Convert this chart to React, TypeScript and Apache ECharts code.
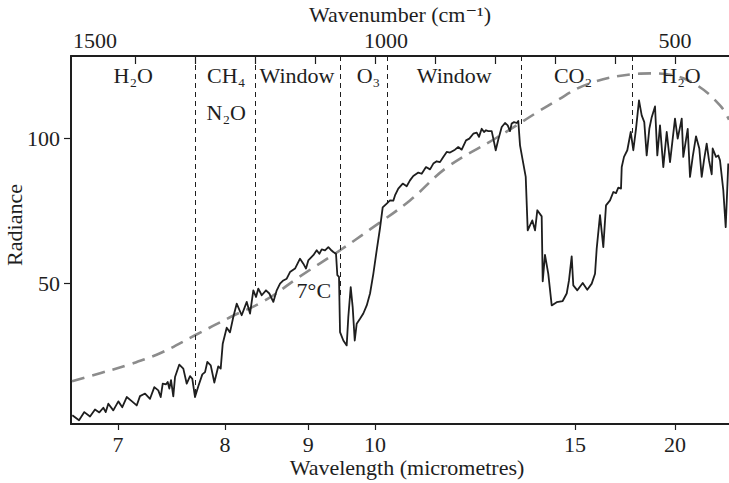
import { useEffect, useRef } from "react";
import * as echarts from "echarts";

// Measured outgoing spectrum: wavenumber (cm⁻¹) and radiance
const wavenumber = [
  1504.5, 1493.3, 1484.5, 1475, 1466.7, 1459.5, 1452.8, 1448.8, 1444.5, 1436.2,
  1427.8, 1421.2, 1413.8, 1405.5, 1397.2, 1391.7, 1383.3, 1375, 1367.8, 1361.2,
  1357.2, 1353.8, 1348.3, 1345.5, 1342.8, 1340, 1336.2, 1333.3, 1326.2, 1319.5,
  1313.8, 1308.3, 1304.5, 1300, 1294.5, 1287.8, 1283.3, 1279.5, 1273.8, 1267.8,
  1261.2, 1257.2, 1253.8, 1247.2, 1241.7, 1236.2, 1230.5, 1222.2, 1213.8, 1208.3,
  1202.8, 1198.3, 1194.5, 1188.8, 1181.7, 1176.2, 1169.5, 1163.8, 1158.3, 1152.8,
  1147.2, 1141.7, 1133.3, 1125, 1119.5, 1115, 1111.2, 1102.8, 1097.2, 1092.8,
  1088.8, 1083.3, 1077.8, 1073.8, 1069.5, 1065, 1062.8, 1060, 1058.3, 1052.8,
  1047.2, 1044.5, 1040.5, 1037.2, 1033.8, 1030.5, 1025, 1019.5, 1013.8, 1008.3,
  1002.8, 997.2, 991.7, 987.2, 980.5, 975, 969.5, 966.7, 961.2, 953.8,
  947.2, 941.7, 936.2, 927.8, 922.2, 915, 908.3, 902.8, 897.2, 891.7,
  886.2, 880.5, 875, 866.7, 861.2, 855.5, 848.3, 842.8, 836.2, 830.5,
  826.7, 822.2, 818.3, 815, 811.2, 805.5, 802.8, 798.8, 794.5, 788.8,
  783.3, 778.8, 775, 772.2, 768.3, 763.8, 761.2, 758.3, 753.8, 748.8,
  745.5, 741.7, 737.8, 733.3, 729.5, 722.2, 720.5, 716.7, 711.2, 705.5,
  697.2, 687.2, 680.5, 676.7, 672.2, 669.5, 662.8, 653.8, 646.2, 638.8,
  633.3, 630.5, 625, 619.5, 615, 608.3, 602.8, 598.3, 594.5, 590,
  588.8, 585, 579.5, 573.8, 569.5, 565, 560, 555.5, 551.2, 547.2,
  542.8, 538.8, 533.3, 529.5, 525, 519.5, 513.8, 508.3, 500, 495.5,
  488.8, 486.2, 478.8, 475, 470.5, 465, 459.5, 455.5, 451.7, 447.2,
  443.3, 438.8, 437.2, 431.7, 427.8, 425, 419.5, 415.5, 411.2,
];
const radiance = [
  4.6, 2.9, 5.7, 4.2, 6.6, 5.6, 7.2, 5.7, 8.6, 6.3,
  9.4, 7.4, 10.9, 9.5, 8.0, 11.2, 12.1, 10.3, 14.3, 13.2,
  10.9, 15.5, 15.3, 16.1, 13.8, 16.7, 11.1, 17.8, 22.1, 20.7,
  15.5, 18.1, 17.2, 10.9, 14.6, 18.7, 19.5, 23.0, 21.8, 15.9,
  21.5, 20.7, 29.3, 34.8, 33.2, 38.5, 43.1, 39.1, 43.7, 39.7,
  47.7, 45.4, 48.3, 46.0, 47.7, 46.6, 43.7, 47.7, 50.0, 51.1,
  51.7, 54.0, 55.2, 58.6, 56.9, 55.2, 58.0, 59.8, 61.5, 60.3,
  61.8, 61.5, 62.6, 61.7, 60.9, 60.3, 52.9, 52.3, 33.3, 30.4,
  28.7, 38.5, 48.8, 41.9, 30.4, 36.2, 37.9, 39.7, 42.5, 46.6,
  53.4, 61.5, 69.1, 76.3, 77.6, 78.7, 78.6, 80.4, 82.8, 84.5,
  83.6, 85.6, 87.1, 88.3, 87.9, 90.2, 89.4, 91.4, 92.2, 91.9,
  93.7, 95.4, 95.2, 96.2, 97.1, 96.2, 99.4, 100.0, 101.7, 102.1,
  100.6, 103.4, 102.3, 102.9, 102.6, 102.6, 100.0, 96.0, 99.7, 104.0,
  105.4, 104.6, 102.6, 105.2, 105.7, 105.4, 106.1, 97.7, 92.5, 86.8,
  68.4, 70.1, 71.8, 68.4, 75.3, 73.2, 50.8, 59.9, 53.4, 42.5,
  43.6, 44.0, 46.6, 51.1, 59.4, 49.4, 47.7, 50.2, 47.9, 50.0,
  53.4, 62.1, 73.6, 62.6, 77.0, 78.7, 81.6, 81.2, 83.1, 82.8,
  90.2, 93.7, 96.0, 102.3, 96.0, 103.4, 113.2, 108.0, 105.7, 94.2,
  103.4, 107.4, 111.1, 94.2, 104.6, 90.2, 102.3, 91.9, 106.9, 100.0,
  106.9, 93.7, 103.4, 86.8, 93.7, 100.8, 96.6, 86.8, 92.5, 98.3,
  92.5, 87.7, 96.6, 93.7, 94.2, 92.5, 82.2, 69.5, 91.4,
];

// Blackbody emission at 7°C
const planckWavenumber = [
  1505, 1458.3, 1408.3, 1358.3, 1300, 1241.7, 1183.3, 1125, 1058.3, 1008.3,
  941.7, 880, 796.7, 696.7, 641.7, 571.7, 541.7, 503.3, 463.3, 425, 410,
];
const planckRadiance = [
  16.3, 19.1, 22.2, 26.0, 32.2, 38.4, 44.2, 52.5, 61.5, 68.7,
  78.7, 90.1, 100.4, 113.2, 119.1, 122.2, 122.5, 121.8, 118.4, 111.5, 106.5,
];

// Axes
const wavenumberRange = [410, 1506.7];
const radianceRange = [1.6, 128.5];
const wavelengthTicks = [7, 8, 9, 10, 15, 20];
const wavenumberLabels = [1500, 1000, 500];
const wavenumberTicks = [1400, 1300, 1200, 1100, 1000, 900, 800, 700, 600, 500];
const radianceTicks = [50, 100];

// Absorption band boundaries and where each divider meets the spectrum
const bandEdges = [1300, 1200, 1058, 980, 757, 572];
const bandEdgeEnds = [12, 48, 45, 78, 105, 102];

// Band names, their centre wavenumbers and text row (0 = upper, 1 = lower)
const bandNames = ["H₂O", "CH₄", "N₂O", "Window", "O₃", "Window", "CO₂", "H₂O"];
const bandCentres = [1403, 1248, 1248, 1130, 1011, 868, 670, 490];
const bandRows = [0, 0, 1, 0, 0, 0, 0, 0];

const FONT = "'Liberation Serif', 'DejaVu Serif', serif";
const INK = "#1e1e1e";

export default function App() {
  const ref = useRef<HTMLDivElement>(null);

  useEffect(() => {
    if (!ref.current) return;
    const chart = echarts.init(ref.current, undefined, { renderer: "svg" });

    const spectrum = wavenumber.map((v, i) => [v, radiance[i]]);
    const planck = planckWavenumber.map((v, i) => [v, planckRadiance[i]]);
    const textStyle = { fontFamily: FONT, fontSize: 22, color: INK };
    const tightText = { ...textStyle, lineHeight: 20 };
    const rowRadiance = [121.8, 109];

    chart.setOption({
      animation: false,
      backgroundColor: "#ffffff",
      textStyle: { fontFamily: FONT },
      grid: { left: 71, right: 0, top: 56, bottom: 59, outerBoundsMode: "none", containLabel: false },
      xAxis: [
        {
          type: "value",
          position: "bottom",
          min: wavenumberRange[0],
          max: wavenumberRange[1],
          inverse: true,
          name: "Wavelength (micrometres)",
          nameLocation: "middle",
          nameGap: 33,
          nameMoveOverlap: false,
          nameTextStyle: { ...tightText, padding: [0, 0, 0, 14] },
          axisLine: { show: true, lineStyle: { color: INK, width: 2 } },
          axisTick: {
            show: true,
            length: 6,
            lineStyle: { color: INK, width: 1.2 },
            customValues: wavelengthTicks.map((w) => 10000 / w),
          },
          axisLabel: {
            ...tightText,
            margin: 10,
            customValues: wavelengthTicks.map((w) => 10000 / w),
            formatter: (v: number) => String(Math.round(10000 / v)),
          },
          splitLine: { show: false },
        },
        {
          type: "value",
          position: "top",
          min: wavenumberRange[0],
          max: wavenumberRange[1],
          inverse: true,
          name: "Wavenumber (cm⁻¹)",
          nameLocation: "middle",
          nameGap: 32,
          nameMoveOverlap: false,
          nameTextStyle: tightText,
          axisLine: { show: true, lineStyle: { color: INK, width: 2 } },
          axisTick: {
            show: true,
            inside: true,
            length: 8,
            lineStyle: { color: INK, width: 1.2 },
            customValues: wavenumberTicks,
          },
          axisLabel: {
            ...tightText,
            margin: 6,
            customValues: wavenumberLabels,
            formatter: (v: number) =>
              v === 1500 ? `{l|${v}}` : v === 1000 ? `{m|${v}}` : `{n|${v}}`,
            rich: {
              l: { ...tightText, padding: [0, 0, 0, 40] },
              m: { ...tightText, padding: [0, 0, 0, 22] },
              n: { ...tightText },
            },
          },
          splitLine: { show: false },
        },
      ],
      yAxis: {
        type: "value",
        min: radianceRange[0],
        max: radianceRange[1],
        name: "Radiance",
        nameLocation: "middle",
        nameGap: 46,
        nameMoveOverlap: false,
        nameTextStyle: { ...textStyle, padding: [0, 0, 0, 30] },
        axisLine: { show: true, lineStyle: { color: INK, width: 2 } },
        axisTick: {
          show: true,
          length: 7,
          lineStyle: { color: INK, width: 1.2 },
          customValues: radianceTicks,
        },
        axisLabel: { ...textStyle, margin: 11, customValues: radianceTicks },
        splitLine: { show: false },
      },
      series: [
        {
          name: "7°C blackbody",
          type: "line",
          data: planck,
          smooth: 0.4,
          symbol: "none",
          lineStyle: { color: "#8c8c8c", width: 2.6, type: [13, 8] },
          z: 2,
          markPoint: {
            symbol: "circle",
            symbolSize: 0,
            label: { show: true, position: "inside", ...textStyle, formatter: "{b}" },
            data: [{ name: "7°C", coord: [1102, 47.7] }],
          },
        },
        {
          name: "Spectrum",
          type: "line",
          data: spectrum,
          symbol: "none",
          lineStyle: { color: INK, width: 1.8, join: "round" },
          z: 3,
          markLine: {
            silent: true,
            symbol: "none",
            label: { show: false },
            lineStyle: { color: INK, width: 1, type: [5, 4] },
            data: bandEdges.map((nu, i) => [
              { coord: [nu, radianceRange[1]] },
              { coord: [nu, bandEdgeEnds[i]] },
            ]),
          },
          markPoint: {
            symbol: "circle",
            symbolSize: 0,
            label: { show: true, position: "inside", ...textStyle, formatter: "{b}" },
            data: bandNames.map((n, i) => ({
              name: n,
              coord: [bandCentres[i], rowRadiance[bandRows[i]]],
            })),
          },
        },
      ],
    });

    return () => chart.dispose();
  }, []);

  return (
    <div
      ref={ref}
      style={{ position: "fixed", left: 0, top: 0, width: 729, height: 483, background: "#fff" }}
    />
  );
}
